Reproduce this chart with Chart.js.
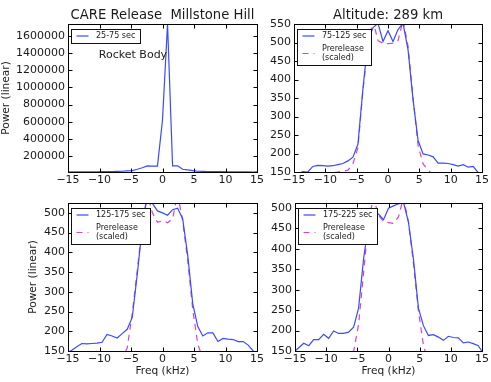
<!DOCTYPE html>
<html><head><meta charset="utf-8">
<script src="https://cdn.jsdelivr.net/npm/chart.js@4.4.1/dist/chart.umd.min.js"></script>
<style>
html,body{margin:0;padding:0;background:#fff;}
#wrap{position:relative;width:491px;height:382px;overflow:hidden;background:#fff;}
canvas{position:absolute;}
</style></head><body>
<div id="wrap">
<canvas id="tl" width="275" height="191" style="left:0;top:0"></canvas>
<canvas id="tr" width="241" height="191" style="left:250px;top:0"></canvas>
<canvas id="bl" width="275" height="191" style="left:0;top:191px"></canvas>
<canvas id="br" width="241" height="191" style="left:250px;top:191px"></canvas>
</div>
<script>
// ---- data (frequency bins in kHz) ----
const freq = [-15.2,-14.4,-13.6,-12.8,-12.0,-11.2,-10.4,-9.6,-8.8,-8.0,-7.2,-6.4,-5.6,-4.8,-4.0,-3.2,-2.4,-1.6,-0.8,0,0.8,1.6,2.4,3.2,4.0,4.8,5.6,6.4,7.2,8.0,8.8,9.6,10.4,11.2,12.0,12.8,13.6,14.4,15.2];
const xTicks = [-15,-10,-5,0,5,10,15];

const power_25_75 = [15000,15000,14000,15000,16000,15000,16000,17000,18000,19000,20000,22000,26000,30000,45000,62000,85000,82000,82000,620000,1740000,85000,85000,45000,38000,30000,22000,20000,19000,18000,18000,17000,16000,16000,15000,14000,14000,13000,14000];
const power_75_125 = [135,145,151,150,165,168,167,166,167,170,173,180,190,225,375,505,540,552,503,532,503,535,552,480,345,235,199,196,191,174,174,173,170,166,170,163,165,148,140];
const pre_75_125 = [110,115,120,126,132,138,143,147,148,150,152,155,172,215,370,490,560,505,498,497,498,505,560,490,350,222,172,155,142,135,130,126,122,118,115,112,110,108,105];
const power_125_175 = [145,152,161,169,168,169,170,172,192,188,183,194,205,235,345,465,545,524,505,500,494,508,512,485,393,270,212,188,196,196,174,182,180,179,174,174,165,150,140];
const pre_125_175 = [100,100,101,102,104,106,108,110,113,116,120,130,158,245,355,470,548,500,476,480,475,485,548,480,380,255,168,130,118,114,112,110,108,106,104,102,101,100,100];
const power_175_225 = [147,158,169,163,178,178,191,181,199,193,193,196,208,255,375,462,487,485,471,499,505,510,514,465,375,255,212,188,190,184,176,186,183,182,170,172,168,163,145];
const pre_175_225 = [100,100,101,102,104,106,108,110,113,116,118,125,148,215,340,470,525,482,466,464,462,478,525,465,365,248,165,120,110,108,106,104,102,101,100,100,100,100,100];

const yTicksTL = [200000,400000,600000,800000,1000000,1200000,1400000,1600000];
const yTicksTR = [150,200,250,300,350,400,450,500,550];
const yTicksB = [150,200,250,300,350,400,450,500];

const labelRocket = '25-75 sec';
const label2 = '75-125 sec';
const label3 = '125-175 sec';
const label4 = '175-225 sec';
const labelPre = ['Prerelease','(scaled)'];

// ---- styling ----
const FONT = '"DejaVu Sans", sans-serif';
Chart.defaults.font.family = FONT;
Chart.defaults.color = '#1a1a1a';
const BLUE = '#3a4aff';
const MAG = '#d444d4';
const TXT = '#1a1a1a';

function fmt(v){ return v < 0 ? '\u2212' + Math.abs(v) : String(v); }
function pts(vals){ return freq.map((f,i)=>({x:f,y:vals[i]})); }

const framePlugin = {
  id: 'frame',
  afterDatasetsDraw(chart){
    const {ctx, chartArea:a, scales:{x,y}} = chart;
    const L = Math.round(a.left)+0.5, R = Math.round(a.right)+0.5, T = Math.round(a.top)+0.5, B = Math.round(a.bottom)+0.5;
    ctx.save();
    ctx.strokeStyle = '#000'; ctx.lineWidth = 1;
    ctx.beginPath();
    x.ticks.forEach(t=>{ const p = Math.round(x.getPixelForValue(t.value))+0.5; ctx.moveTo(p,B); ctx.lineTo(p,B-4); ctx.moveTo(p,T); ctx.lineTo(p,T+4); });
    y.ticks.forEach(t=>{ const p = Math.round(y.getPixelForValue(t.value))+0.5; ctx.moveTo(L,p); ctx.lineTo(L+4,p); ctx.moveTo(R,p); ctx.lineTo(R-4,p); });
    ctx.stroke();
    ctx.strokeRect(L,T,R-L,B-T);
    ctx.restore();
  }
};

const legendPlugin = {
  id: 'mplLegend',
  afterDatasetsDraw(chart){
    const {ctx, chartArea:a} = chart;
    const ds = chart.data.datasets;
    ctx.save();
    ctx.font = '8px ' + FONT;
    const entries = ds.map(d => Array.isArray(d.label) ? d.label : [d.label]);
    let tw = 0;
    entries.forEach(ls => ls.forEach(l => { tw = Math.max(tw, ctx.measureText(l).width); }));
    const lineH = 9, gap = 4;
    let h = 2;
    entries.forEach((ls,i)=>{ h += ls.length*lineH + (i?gap:0); });
    h += 2.5;
    const bx = Math.round(a.left+3)+0.5, by = Math.round(a.top+4.5)+0.5;
    const bw = Math.round(24.5 + tw + 5);
    ctx.fillStyle = '#fff'; ctx.fillRect(bx,by,bw,h);
    ctx.strokeStyle = '#111'; ctx.lineWidth = 1; ctx.strokeRect(bx,by,bw,Math.round(h));
    let cy = by + 2;
    entries.forEach((ls,i)=>{
      if (i) cy += gap;
      const mid = cy + ls.length*lineH/2;
      ctx.strokeStyle = ds[i].borderColor; ctx.lineWidth = ds[i].borderWidth;
      ctx.setLineDash(ds[i].borderDash || []);
      ctx.beginPath(); ctx.moveTo(bx+5, mid); ctx.lineTo(bx+17, mid); ctx.stroke();
      ctx.setLineDash([]);
      ctx.fillStyle = TXT; ctx.textBaseline = 'middle'; ctx.textAlign = 'left';
      ls.forEach((l,k)=> ctx.fillText(l, bx+24.5, cy + lineH*k + lineH/2));
      cy += ls.length*lineH;
    });
    ctx.restore();
  }
};

const notePlugin = {
  id: 'note',
  afterDatasetsDraw(chart, args, opts){
    if (!opts || !opts.text) return;
    const {ctx, scales:{x,y}} = chart;
    ctx.save();
    ctx.font = '11px ' + FONT; ctx.fillStyle = TXT;
    ctx.textAlign = 'left'; ctx.textBaseline = 'middle';
    ctx.fillText(opts.text, x.getPixelForValue(opts.x), y.getPixelForValue(opts.y));
    ctx.restore();
  }
};

function panel(id, p){
  return new Chart(document.getElementById(id), {
    type: 'line',
    data: { datasets: p.series.map(s => ({
      label: s.label, data: pts(s.values), borderColor: s.color, borderWidth: 1.2,
      borderDash: s.dash || [], pointRadius: 0, fill: false, tension: 0, clip: 0
    })) },
    options: {
      responsive: false, animation: false, events: [],
      layout: { padding: p.pad },
      plugins: {
        legend: { display: false }, tooltip: { enabled: false },
        title: p.title ? { display: true, text: p.title, fullSize: false, color: TXT,
          font: { size: 13.2, weight: 'normal' }, padding: { top: 7.6, bottom: 0.6 } } : { display: false },
        note: p.note || {}
      },
      scales: {
        x: { type: 'linear', min: -15, max: 15,
          afterBuildTicks: s => { s.ticks = xTicks.map(v => ({value: v})); },
          afterFit: s => { s.height = p.xh; },
          grid: { display: false, drawTicks: false }, border: { display: false },
          ticks: { padding: 2, autoSkip: false, maxRotation: 0, minRotation: 0, color: TXT, font: { size: 11 }, callback: v => fmt(v) },
          title: p.xTitle ? { display: true, text: p.xTitle, color: TXT, font: { size: 10.6 }, padding: { top: 0, bottom: 4.6 } } : { display: false }
        },
        y: { type: 'linear', min: p.ymin, max: p.ymax,
          afterBuildTicks: s => { s.ticks = p.yTicks.map(v => ({value: v})); },
          afterFit: s => { s.width = p.yw; },
          grid: { display: false, drawTicks: false }, border: { display: false },
          ticks: { padding: 3, color: TXT, font: { size: 11 }, callback: v => String(v) },
          title: p.yTitle ? { display: true, text: p.yTitle, color: TXT, font: { size: 10.6 }, padding: { top: p.yTitlePad, bottom: 0 } } : { display: false }
        }
      }
    },
    plugins: [framePlugin, legendPlugin, notePlugin]
  });
}

panel('tl', {
  series: [{ label: labelRocket, values: power_25_75, color: BLUE }],
  title: 'CARE Release  Millstone Hill', yTitle: 'Power (linear)', yTitlePad: 0,
  ymin: Math.min(...power_25_75), ymax: Math.max(...power_25_75), yTicks: yTicksTL,
  yw: 68, xh: 19, pad: { left: 0, top: 0, right: 18, bottom: 0 },
  note: { text: 'Rocket Body', x: -10.1, y: 1380000 }
});
panel('tr', {
  series: [{ label: label2, values: power_75_125, color: BLUE }, { label: labelPre, values: pre_75_125, color: MAG, dash: [6,5] }],
  title: 'Altitude: 289 km',
  ymin: 150, ymax: 550, yTicks: yTicksTR,
  yw: 44, xh: 19, pad: { left: 0, top: 0, right: 8, bottom: 0 }
});
panel('bl', {
  series: [{ label: label3, values: power_125_175, color: BLUE }, { label: labelPre, values: pre_125_175, color: MAG, dash: [6,5] }],
  yTitle: 'Power (linear)', yTitlePad: 26.6, xTitle: 'Freq (kHz)',
  ymin: 150, ymax: 525, yTicks: yTicksB,
  yw: 68, xh: 31, pad: { left: 0, top: 12, right: 18, bottom: 0 }
});
panel('br', {
  series: [{ label: label4, values: power_175_225, color: BLUE }, { label: labelPre, values: pre_175_225, color: MAG, dash: [6,5] }],
  xTitle: 'Freq (kHz)',
  ymin: 150, ymax: 512, yTicks: yTicksB,
  yw: 45, xh: 31, pad: { left: 0, top: 12, right: 8, bottom: 0 }
});
</script>
</body></html>
